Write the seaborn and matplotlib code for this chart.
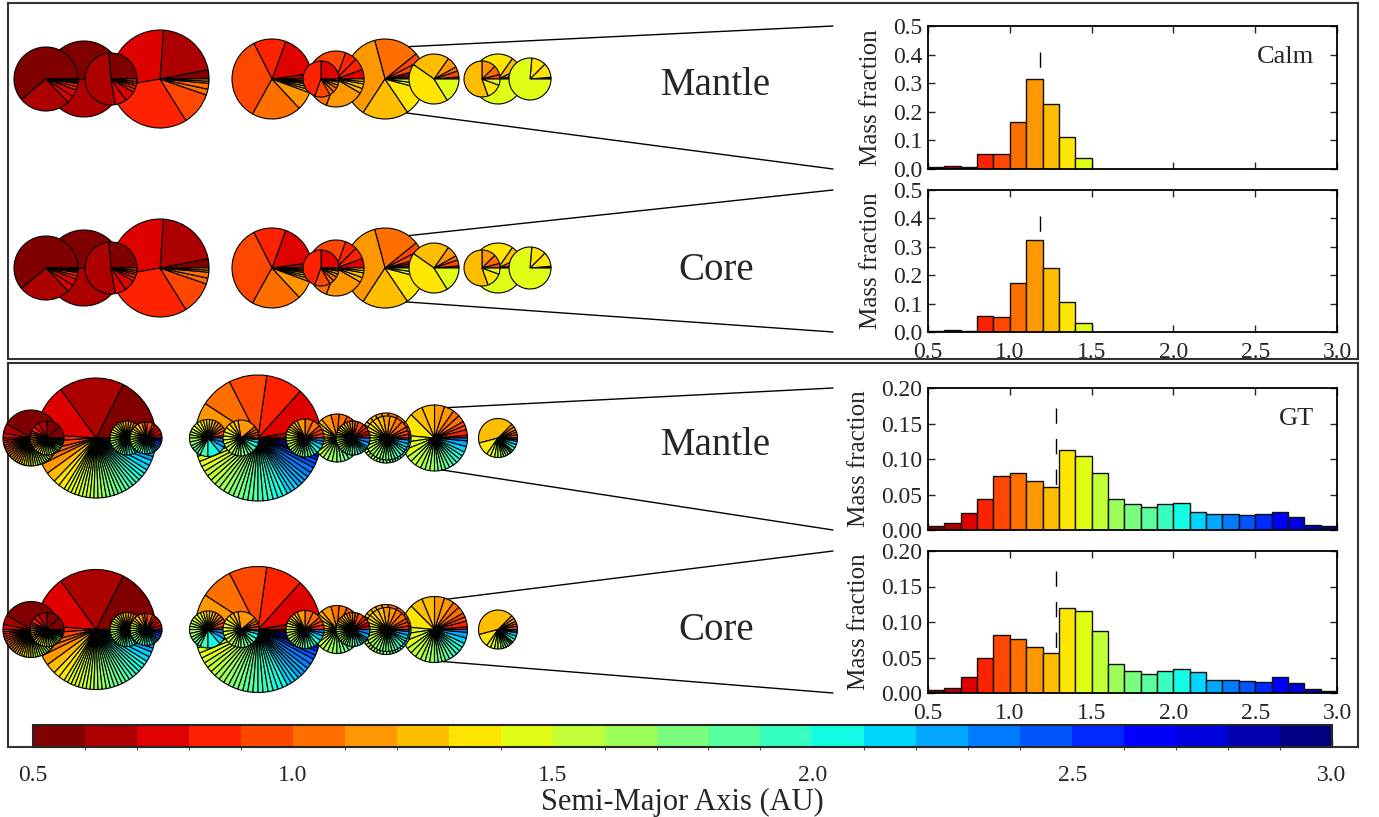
import numpy as np
import matplotlib
matplotlib.use("Agg")
import matplotlib.pyplot as plt
import seaborn as sns
from matplotlib.colors import ListedColormap, BoundaryNorm
from matplotlib.cm import ScalarMappable

# ---------------------------------------------------------------- data
BIN_EDGES = np.round(np.linspace(0.5, 3.0, 26), 2)
BIN_CENTERS = np.round(BIN_EDGES[:-1] + 0.05, 3)
BIN_LABELS = [f"{a:.1f}-{a + 0.1:.1f}" for a in BIN_EDGES[:-1]]

CALM_MANTLE = [0.006, 0.010, 0.007, 0.054, 0.054, 0.166, 0.314, 0.229, 0.113, 0.040]
CALM_CORE = [0.004, 0.007, 0.005, 0.056, 0.052, 0.173, 0.324, 0.224, 0.107, 0.033]
GT_MANTLE = [0.006, 0.010, 0.024, 0.044, 0.076, 0.080, 0.069, 0.060, 0.113, 0.104,
             0.080, 0.044, 0.037, 0.033, 0.036, 0.038, 0.026, 0.023, 0.023, 0.021,
             0.022, 0.025, 0.018, 0.007, 0.005]
GT_CORE = [0.004, 0.007, 0.022, 0.050, 0.081, 0.076, 0.065, 0.057, 0.120, 0.115,
           0.087, 0.041, 0.031, 0.027, 0.031, 0.034, 0.029, 0.018, 0.019, 0.017,
           0.016, 0.022, 0.014, 0.005, 0.003]
CALM_MEDIAN = 1.185
GT_MEDIAN = 1.28
X_TICKS = [0.5, 1.0, 1.5, 2.0, 2.5, 3.0]
CALM_YTICKS = [0.0, 0.1, 0.2, 0.3, 0.4, 0.5]
GT_YTICKS = [0.00, 0.05, 0.10, 0.15, 0.20]

# Planet compositions: (origin bin, share in degrees, number of bodies)
CALM_PIES = [
    [(0, 220, 1), (1, 94, 1), (2, 26, 2), (3, 12, 2), (4, 5, 2), (5, 3, 2)],
    [(0, 190, 1), (1, 140, 1), (2, 18, 3), (3, 12, 2)],
    [(0, 95, 1), (1, 185, 1), (2, 50, 2), (3, 15, 2), (4, 10, 2), (5, 5, 1)],
    [(0, 11, 1), (1, 75, 1), (2, 104, 1), (3, 112, 1), (4, 39, 1), (5, 14, 2), (6, 5, 2)],
    [(1, 8, 1), (2, 62, 1), (3, 47, 1), (4, 124, 1), (5, 72, 1), (6, 27, 1), (7, 12, 3), (8, 8, 3)],
    [(2, 90, 1), (3, 160, 1), (4, 50, 1), (5, 30, 2), (6, 20, 2), (7, 10, 2)],
    [(2, 20, 1), (3, 50, 2), (4, 110, 1), (5, 70, 1), (6, 80, 1), (7, 20, 2), (8, 10, 2)],
    [(2, 5, 1), (3, 10, 2), (4, 24, 2), (5, 66, 1), (6, 132, 1), (7, 67, 1), (8, 41, 1), (9, 15, 2)],
    [(3, 5, 1), (4, 14, 1), (5, 10, 1), (6, 26, 1), (7, 90, 1), (8, 157, 1), (9, 58, 1)],
    [(4, 15, 1), (5, 30, 1), (6, 45, 1), (7, 200, 1), (8, 50, 1), (9, 20, 1)],
    [(5, 10, 1), (6, 15, 1), (7, 30, 1), (8, 140, 1), (9, 165, 1)],
    [(7, 5, 2), (8, 80, 2), (9, 275, 1)],
]
GT_PIES = [
    [(0, 150, 1), (1, 20, 1), (2, 10, 1), (3, 10, 2), (4, 15, 3), (5, 15, 3), (6, 15, 3),
     (7, 15, 3), (8, 15, 3), (9, 20, 4), (10, 20, 4), (11, 15, 3), (12, 15, 3), (13, 10, 2),
     (14, 10, 2), (15, 5, 1)],
    [(0, 90, 2), (1, 30, 1), (2, 20, 1), (3, 15, 1), (4, 15, 2), (5, 15, 2), (6, 15, 2),
     (7, 20, 3), (8, 25, 3), (9, 25, 3), (10, 25, 3), (11, 20, 3), (12, 15, 2), (13, 10, 2),
     (14, 5, 1), (15, 5, 1), (16, 5, 1), (17, 5, 1)],
    [(0, 63, 1), (1, 63, 1), (2, 50, 1), (3, 8, 1), (4, 10, 1), (5, 12, 2), (6, 10, 1),
     (7, 10, 1), (8, 12, 2), (9, 15, 4), (10, 15, 4), (11, 12, 3), (12, 12, 3), (13, 12, 3),
     (14, 12, 3), (15, 12, 3), (16, 10, 2), (17, 8, 2), (18, 5, 2), (19, 4, 1), (20, 3, 1),
     (21, 2, 1)],
    [(2, 10, 1), (3, 15, 1), (4, 20, 2), (5, 20, 2), (6, 20, 2), (7, 20, 2), (8, 25, 3),
     (9, 30, 3), (10, 30, 3), (11, 30, 3), (12, 25, 3), (13, 25, 3), (14, 20, 2), (15, 20, 2),
     (16, 15, 2), (17, 15, 2), (18, 10, 1), (19, 10, 1)],
    [(1, 15, 1), (2, 30, 2), (3, 20, 2), (4, 20, 1), (5, 20, 2), (6, 15, 1), (7, 15, 1),
     (8, 20, 2), (9, 20, 2), (10, 20, 2), (11, 20, 2), (12, 20, 2), (13, 20, 2), (14, 20, 2),
     (15, 20, 2), (16, 15, 2), (17, 15, 2), (18, 10, 1), (19, 10, 1), (20, 15, 2)],
    [(1, 10, 1), (2, 38, 1), (3, 34, 1), (4, 35, 1), (5, 30, 1), (6, 20, 1), (7, 15, 1),
     (8, 15, 1), (9, 15, 3), (10, 15, 3), (11, 15, 3), (12, 14, 3), (13, 14, 3), (14, 14, 3),
     (15, 14, 3), (16, 12, 3), (17, 12, 3), (18, 10, 2), (19, 8, 2), (20, 6, 2), (21, 5, 1),
     (22, 4, 1), (23, 3, 1), (24, 2, 1)],
    [(3, 10, 1), (4, 15, 1), (5, 20, 2), (6, 20, 2), (7, 20, 2), (8, 30, 3), (9, 35, 3),
     (10, 30, 3), (11, 25, 2), (12, 20, 2), (13, 20, 2), (14, 25, 1), (15, 40, 1),
     (16, 20, 1), (17, 15, 1), (18, 15, 1)],
    [(4, 20, 2), (5, 20, 2), (6, 60, 1), (7, 30, 2), (8, 30, 2), (9, 40, 3), (10, 40, 3),
     (11, 30, 3), (12, 25, 2), (13, 20, 2), (14, 15, 1), (15, 15, 1), (16, 10, 1), (17, 5, 1)],
    [(3, 15, 1), (4, 25, 2), (5, 50, 2), (6, 25, 1), (7, 20, 2), (8, 25, 3), (9, 30, 3),
     (10, 30, 3), (11, 25, 3), (12, 25, 3), (13, 20, 2), (14, 20, 2), (15, 15, 1), (16, 15, 1),
     (17, 10, 1), (18, 10, 1)],
    [(2, 15, 1), (3, 20, 1), (4, 30, 2), (5, 40, 2), (6, 25, 1), (7, 20, 2), (8, 25, 2),
     (9, 30, 3), (10, 30, 3), (11, 35, 3), (12, 30, 3), (13, 20, 2), (14, 15, 1), (15, 10, 1),
     (16, 10, 1), (17, 5, 1)],
    [(2, 25, 2), (3, 25, 2), (4, 20, 1), (5, 20, 2), (6, 20, 2), (7, 20, 2), (8, 25, 3),
     (9, 20, 3), (10, 25, 3), (11, 25, 3), (12, 25, 3), (13, 20, 2), (14, 20, 2), (15, 15, 2),
     (16, 15, 2), (17, 15, 1), (18, 15, 1)],
    [(3, 15, 2), (4, 25, 2), (5, 45, 2), (6, 30, 2), (7, 25, 2), (8, 25, 3), (9, 30, 4),
     (10, 30, 4), (11, 30, 4), (12, 25, 3), (13, 20, 3), (14, 15, 2), (15, 15, 2), (16, 10, 1),
     (17, 10, 1), (18, 10, 1)],
    [(3, 10, 1), (4, 20, 2), (5, 35, 2), (6, 35, 2), (7, 30, 2), (8, 30, 3), (9, 30, 3),
     (10, 30, 3), (11, 30, 3), (12, 25, 3), (13, 25, 3), (14, 20, 2), (15, 15, 2), (16, 10, 1),
     (17, 10, 1), (18, 5, 1)],
    [(2, 5, 1), (3, 10, 1), (4, 15, 2), (5, 25, 2), (6, 35, 2), (7, 45, 2), (8, 40, 1),
     (9, 40, 3), (10, 30, 3), (11, 25, 3), (12, 20, 3), (13, 15, 2), (14, 15, 2), (15, 15, 2),
     (16, 10, 1), (17, 10, 1), (18, 5, 1)],
    [(4, 10, 1), (5, 15, 2), (6, 20, 2), (7, 150, 1), (8, 40, 1), (9, 25, 2), (10, 20, 2),
     (11, 15, 2), (12, 15, 2), (13, 10, 2), (14, 10, 1), (15, 10, 1), (16, 10, 1), (17, 5, 1),
     (18, 5, 1)],
]

# ---------------------------------------------------------------- layout (pixels)
W, H = 1379, 817
CALM_PIE_X = [46, 84, 111, 160, 272, 321, 336, 385, 434, 482, 498, 530]
CALM_PIE_R = [32, 38, 26, 49, 40, 18, 28, 40, 25, 18, 25, 21]
CALM_ROW_Y = [79, 268]
CALM_LINKED = 7
GT_PIE_X = [31, 47, 96, 127, 146, 258, 208, 241, 305, 337, 353, 386, 387, 434.5, 498]
GT_PIE_R = [28, 17, 60, 17, 16, 63, 18.5, 18, 19, 24, 17, 25, 22, 33, 19.5]
GT_ROW_Y = [438, 629.5]
GT_LINKED = 13
HIST_BOXES = [(928, 26, 1337, 169), (928, 190, 1337, 332),
              (928, 388, 1337, 530), (928, 551, 1337, 693)]

COLORS = plt.get_cmap("jet_r")(np.linspace(0, 1, 25))

sns.set_style("ticks")
plt.rcParams["font.family"] = ["Liberation Serif", "DejaVu Serif"]
plt.rcParams["axes.linewidth"] = 1.3

fig = plt.figure(figsize=(W / 100, H / 100), dpi=100)


def frac_rect(x0, y0, x1, y1):
    return [x0 / W, 1 - y1 / H, (x1 - x0) / W, (y1 - y0) / H]


# outer boxes
for box in [(8, 3, 1358, 359), (8, 363, 1358, 747)]:
    bax = fig.add_axes(frac_rect(*box))
    bax.set_xticks([])
    bax.set_yticks([])
    bax.set_facecolor("none")
    for s in bax.spines.values():
        s.set_color("#333333")
        s.set_linewidth(1.5)

# histograms
hist_specs = [
    (CALM_MANTLE, CALM_MEDIAN, CALM_YTICKS, "Calm", False, 0.41),
    (CALM_CORE, CALM_MEDIAN, CALM_YTICKS, None, True, 0.41),
    (GT_MANTLE, GT_MEDIAN, GT_YTICKS, "GT", False, 0.172),
    (GT_CORE, GT_MEDIAN, GT_YTICKS, None, True, 0.172),
]
for box, (vals, med, yticks, name, xlab, ltop) in zip(HIST_BOXES, hist_specs):
    ax = fig.add_axes(frac_rect(*box))
    n = len(vals)
    ax.plot([med, med], [ltop, 0], color="black", lw=1.0, dashes=(11, 11), zorder=0.5)
    sns.barplot(x=BIN_CENTERS[:n], y=vals, hue=BIN_LABELS[:n], palette=list(COLORS[:n]),
                native_scale=True, width=1.0, dodge=False, legend=False, saturation=1,
                edgecolor="#111111", linewidth=1.0, errorbar=None, ax=ax)
    ax.set_xlim(0.5, 3.0)
    ax.set_ylim(yticks[0], yticks[-1])
    ax.set_xticks(X_TICKS)
    ax.set_yticks(yticks)
    fmt = "{:.1f}" if yticks[-1] > 0.3 else "{:.2f}"
    ax.set_yticklabels([fmt.format(t) for t in yticks])
    if xlab:
        ax.set_xticklabels([f"{t:.1f}" for t in X_TICKS])
    else:
        ax.set_xticklabels([])
    ax.tick_params(direction="in", length=5, width=1.0, top=True, right=True,
                   labelsize=17, pad=4)
    ax.tick_params(axis="x", pad=7)
    ax.set_xlabel("")
    ax.set_ylabel("Mass fraction", fontsize=18, labelpad=8)
    for s in ax.spines.values():
        s.set_linewidth(1.3)
        s.set_color("black")
    if name:
        ax.text(0.945, 0.78, name, transform=ax.transAxes, ha="right", va="center",
                fontsize=19)

# pies and connectors (overlay axes in pixel units)
pax = fig.add_axes([0, 0, 1, 1])
pax.set_facecolor("none")


def draw_row(pies, xs, rs, yc):
    order = np.argsort(rs)[::-1]
    for i in order:
        sizes, cols = [], []
        for b, deg, cnt in pies[i]:
            for _ in range(cnt):
                sizes.append(deg / cnt)
                cols.append(COLORS[b])
        pax.pie(sizes, colors=cols, center=(xs[i], H - yc), radius=rs[i],
                startangle=0, counterclock=True, frame=False,
                wedgeprops=dict(edgecolor="black", linewidth=0.8))


def connect(xs, rs, idx, yc, box, angles):
    cx, cy, r = xs[idx], H - yc, rs[idx]
    for ang, yend in zip(angles, (box[1], box[3])):
        a = np.deg2rad(ang)
        pax.plot([cx + r * np.cos(a), 833], [cy + r * np.sin(a), H - yend],
                 color="black", lw=1.0)


for k, yc in enumerate(CALM_ROW_Y):
    draw_row(CALM_PIES, CALM_PIE_X, CALM_PIE_R, yc)
    connect(CALM_PIE_X, CALM_PIE_R, CALM_LINKED, yc, HIST_BOXES[k], (54, -58))
for k, yc in enumerate(GT_ROW_Y):
    draw_row(GT_PIES, GT_PIE_X, GT_PIE_R, yc)
    connect(GT_PIE_X, GT_PIE_R, GT_LINKED, yc, HIST_BOXES[2 + k], (67, -76))

for lbl, yc in [("Mantle", 85), ("Core", 270), ("Mantle", 445), ("Core", 630)]:
    pax.text(716, H - yc, lbl, ha="center", va="center", fontsize=28)

pax.set_xlim(0, W)
pax.set_ylim(0, H)
pax.set_axis_off()

# colorbar
cax = fig.add_axes(frac_rect(33, 725, 1332, 747))
cmap = ListedColormap(COLORS)
norm = BoundaryNorm(BIN_EDGES, cmap.N)
cb = fig.colorbar(ScalarMappable(norm=norm, cmap=cmap), cax=cax, orientation="horizontal")
cb.set_ticks(X_TICKS)
cax.set_xticklabels([f"{t:.1f}" for t in X_TICKS], fontsize=17)
cax.tick_params(direction="in", length=5, width=1.0, pad=13)
cb.outline.set_linewidth(1.5)
cax.set_xlabel("Semi-Major Axis (AU)", fontsize=22, labelpad=1)

fig.savefig("out.png", dpi=100)
